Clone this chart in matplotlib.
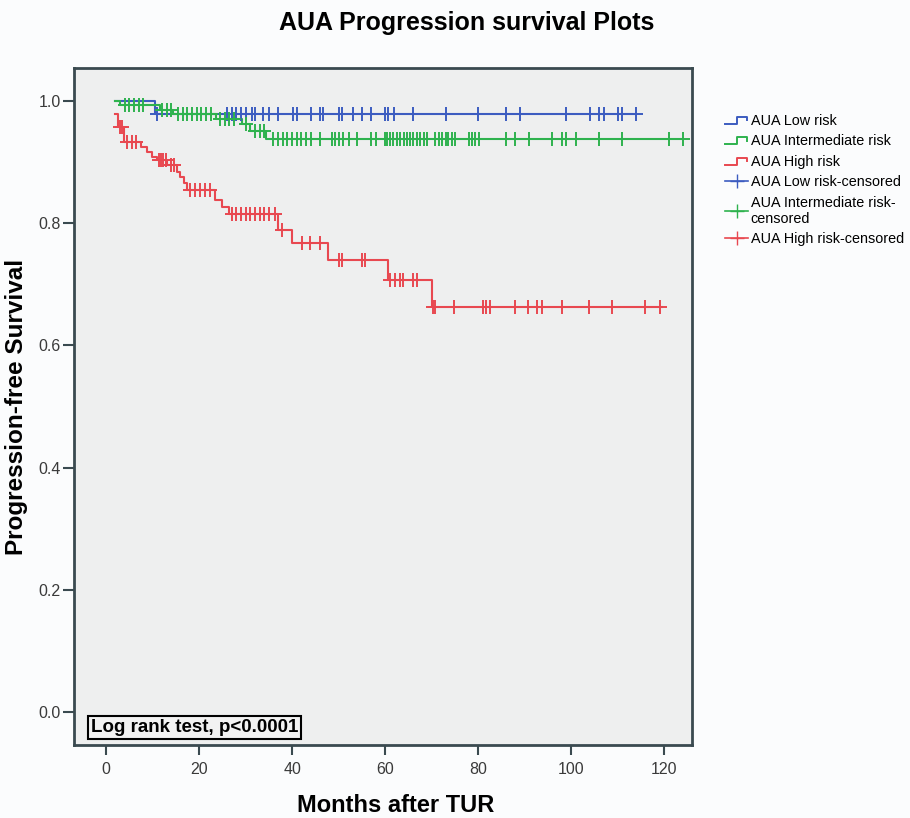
import numpy as np
import matplotlib
matplotlib.use('Agg')
import matplotlib.pyplot as plt
from matplotlib.lines import Line2D
from matplotlib.legend_handler import HandlerBase

plt.rcParams['font.family'] = ['Liberation Sans', 'DejaVu Sans']

# Kaplan-Meier step data: event times and survival after each drop
low_t = [2.0, 10.5]
low_s = [1.0, 0.979]
low_end = 114
low_cens = [11, 26, 27, 28, 29, 30, 31.3, 32, 33.8, 35, 37, 40.3, 41, 44, 46, 46.7,
            50, 50.7, 53, 55, 57, 60, 60.7, 62, 66, 73, 80, 86, 89, 99, 104, 106,
            107, 110, 111, 114]

int_t = [2.0, 3.0, 11.5, 14.5, 23.6, 29.3, 31.0, 34.5]
int_s = [1.0, 0.993, 0.986, 0.979, 0.971, 0.962, 0.951, 0.938]
int_end = 124
int_cens = [4, 5, 6, 7, 8, 12, 13, 14, 15.5, 16.5, 17.5, 18.5, 19.5, 20.5, 21.5, 22.5,
            24.5, 25.5, 26.5, 27.5, 30, 32, 33, 34, 36, 37, 38, 39, 40, 41, 42, 43, 44,
            46, 48.5, 49.2, 50, 51, 52.3, 54, 57, 58, 60, 60.5, 61.1, 61.8, 62.5, 63.2,
            64, 64.7, 65.4, 66.1, 66.8, 67.5, 68.3, 69, 70.8, 71.5, 72.3, 73, 73.6,
            74.4, 75.1, 78, 78.7, 79.4, 80.1, 86, 88, 91, 96, 98, 99, 101, 106, 111,
            121, 124]

high_t = [2.0, 2.5, 3.8, 7.5, 8.7, 9.8, 11.0, 13.0, 15.2, 16.0, 16.8, 17.4, 23.4,
          25.0, 26.5, 37.0, 39.9, 47.8, 60.6, 70.0]
high_s = [0.978, 0.958, 0.933, 0.925, 0.917, 0.909, 0.903, 0.895, 0.884, 0.876,
          0.865, 0.855, 0.838, 0.826, 0.815, 0.789, 0.767, 0.740, 0.707, 0.663]
high_end = 119.5
high_cens = [3, 3.4, 4.5, 5.5, 6.5, 11.3, 11.8, 12.3, 12.8, 14, 14.6, 18, 19.1, 20.2,
             21.3, 22.4, 27.1, 28, 29, 30, 31, 32, 33, 34, 35, 36.3, 37.8, 42.1, 43.9,
             46, 50, 50.7, 55, 55.7, 61.1, 62.2, 63.2, 63.9, 66.1, 66.8, 70.3, 70.8,
             74.8, 81.1, 81.8, 82.6, 88, 90.8, 92.6, 93.7, 98, 103.9, 108.9, 115.9, 119.1]

labels = ['AUA Low risk', 'AUA Intermediate risk', 'AUA High risk',
          'AUA Low risk-censored', 'AUA Intermediate risk-\ncensored',
          'AUA High risk-censored']

c_low = '#3C5CC0'
c_int = '#2EB24E'
c_high = '#E84850'

fig = plt.figure(figsize=(9.1, 8.18), dpi=100, facecolor='#FBFCFD')
ax = fig.add_axes([0.0813, 0.0892, 0.6791, 0.8277])
ax.set_facecolor('#EEEFEF')


def km(ax, t, s, end, cens, color):
    xs = list(t) + [end]
    ys = list(s) + [s[-1]]
    ax.step(xs, ys, where='post', color=color, lw=1.5, zorder=3)
    cens = np.asarray(cens)
    idx = np.searchsorted(t, cens, side='right') - 1
    ax.plot(cens, np.asarray(s)[idx], ls='none', marker='+', ms=10, mew=1.4,
            color=color, zorder=4)


km(ax, low_t, low_s, low_end, low_cens, c_low)
km(ax, int_t, int_s, int_end, int_cens, c_int)
km(ax, high_t, high_s, high_end, high_cens, c_high)

ax.set_xlim(-6.9, 126)
ax.set_ylim(-0.054, 1.054)
ax.set_xticks([0, 20, 40, 60, 80, 100, 120])
ax.set_yticks([0.0, 0.2, 0.4, 0.6, 0.8, 1.0])
ax.yaxis.set_major_formatter(matplotlib.ticker.FormatStrFormatter('%.1f'))
ax.tick_params(direction='out', width=1.5, color='#3A4A50',
               labelsize=11.5, labelcolor='#3A3A3A')
ax.tick_params(axis='x', length=7.5, pad=5)
ax.tick_params(axis='y', length=8, pad=1.5)
for sp in ax.spines.values():
    sp.set_linewidth(2)
    sp.set_color('#3A4A50')

ax.set_xlabel('Months after TUR', fontsize=17, fontweight='bold')
ax.xaxis.set_label_coords(0.52, -0.072)
ax.set_ylabel('Progression-free Survival', fontsize=17.5, fontweight='bold')
ax.yaxis.set_label_coords(-0.074, 0.5)
fig.text(0.513, 0.972, 'AUA Progression survival Plots', ha='center', va='center',
         fontsize=18, fontweight='bold')

ax.text(0.028, 0.026, 'Log rank test, p<0.0001', transform=ax.transAxes,
        fontsize=13.5, fontweight='bold', ha='left', va='center',
        bbox=dict(boxstyle='square,pad=0.15', fc='#F2F2F2', ec='black', lw=1.5))


class StepHandler(HandlerBase):
    def create_artists(self, legend, orig_handle, xdescent, ydescent, width, height,
                       fontsize, trans):
        x = np.array([0, 0.5, 0.5, 0.95, 0.95]) * width - xdescent
        y = np.array([0.1, 0.1, 0.8, 0.8, 0.45]) * height - ydescent
        ln = Line2D(x, y, color=orig_handle.get_color(), lw=1.4, transform=trans)
        return [ln]


handles = [Line2D([], [], color=c_low), Line2D([], [], color=c_int),
           Line2D([], [], color=c_high),
           Line2D([], [], color=c_low, marker='+', ms=10, lw=1.2),
           Line2D([], [], color=c_int, marker='+', ms=10, lw=1.2),
           Line2D([], [], color=c_high, marker='+', ms=10, lw=1.2)]
hmap = {h: StepHandler() for h in handles[:3]}
fig.legend(handles, labels, handler_map=hmap, loc='upper left',
           bbox_to_anchor=(0.797, 0.861), frameon=False, fontsize=10.4,
           handlelength=1.6, handletextpad=0.15, labelspacing=0.45,
           borderaxespad=0, borderpad=0)

fig.savefig('out.png', dpi=100, facecolor=fig.get_facecolor())
